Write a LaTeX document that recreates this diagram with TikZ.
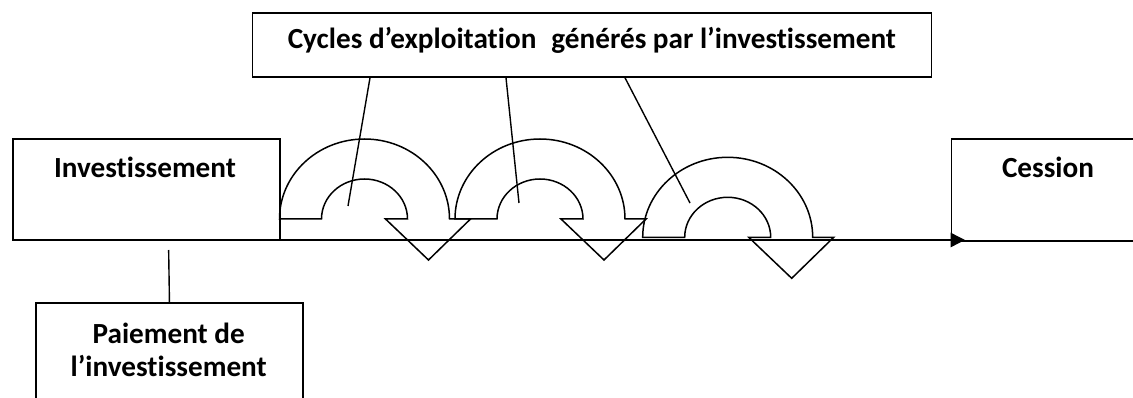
\documentclass[tikz,border=0pt]{standalone}
\usepackage{fontspec}
\setmainfont{Carlito}[Ligatures=NoCommon]
\usetikzlibrary{arrows.meta}
\begin{document}
\begin{tikzpicture}[x=1pt,y=-1pt,
  box/.style={draw, line width=1.6pt, inner sep=0pt},
  lbl/.style={font=\fontsize{29.2}{34}\selectfont\bfseries, inner sep=0pt},
  link/.style={line width=1.4pt},
  loopline/.style={line width=1.5pt, line join=miter},
  cyclearrow/.pic={
    \draw[loopline] (-85,0) arc[start angle=180, end angle=360, x radius=85, y radius=80]
      -- (106,0) -- (64,41) -- (21,0) -- (43,0)
      arc[start angle=360, end angle=180, x radius=43, y radius=40] -- cycle;
  }]
\useasboundingbox (0,0) rectangle (1133,398);
\clip (0,0) rectangle (1133,398);

% heading box
\node[box, lbl, inner xsep=35.3pt, minimum height=64pt, text height=20pt,
      text depth=13.4pt, anchor=west] (cycles) at (251.7,45)
      {Cycles d’exploitation\hspace{15pt}générés par l’investissement};

% start and end of the project
\node[box, minimum width=267pt, minimum height=100.7pt, anchor=north west] (invest) at (12,138.3) {};
\node[lbl, anchor=base] (investtxt) at (145,178) {Investissement};
\node[box, minimum width=200pt, minimum height=101.7pt, anchor=north west] (cession) at (950.7,138.3) {};
\node[lbl, anchor=base] (cessiontxt) at (1048,178) {Cession};

% payment box
\node[box, minimum width=267.3pt, minimum height=130pt, anchor=north west] (paie) at (35,302) {};
\node[lbl, anchor=base] (paie1) at (168.7,343) {Paiement de};
\node[lbl, anchor=base] (paie2) at (168.7,376) {l’investissement};

% time axis
\coordinate (t0) at (110,240);
\coordinate (tend) at (965,240);
\draw[link, -{Triangle[length=14.5pt,width=14.5pt]}] (t0) -- (tend);

% link to the payment
\coordinate (pay) at (168.65,250);
\draw[link] (pay) -- (paie.north);

% operating cycles
\pic at (364.5,219) {cyclearrow};
\pic at (540,219) {cyclearrow};
\pic at (727.7,237.3) {cyclearrow};

% pointers from the heading into each cycle
\coordinate (p1) at (348,206);
\coordinate (p2) at (519,203);
\coordinate (p3) at (690,203);
\draw[link] (cycles.south west) ++(118.3,0) -- (p1);
\draw[link] (cycles.south west) ++(254.3,0) -- (p2);
\draw[link] (cycles.south west) ++(373.3,0) -- (p3);
\end{tikzpicture}
\end{document}
